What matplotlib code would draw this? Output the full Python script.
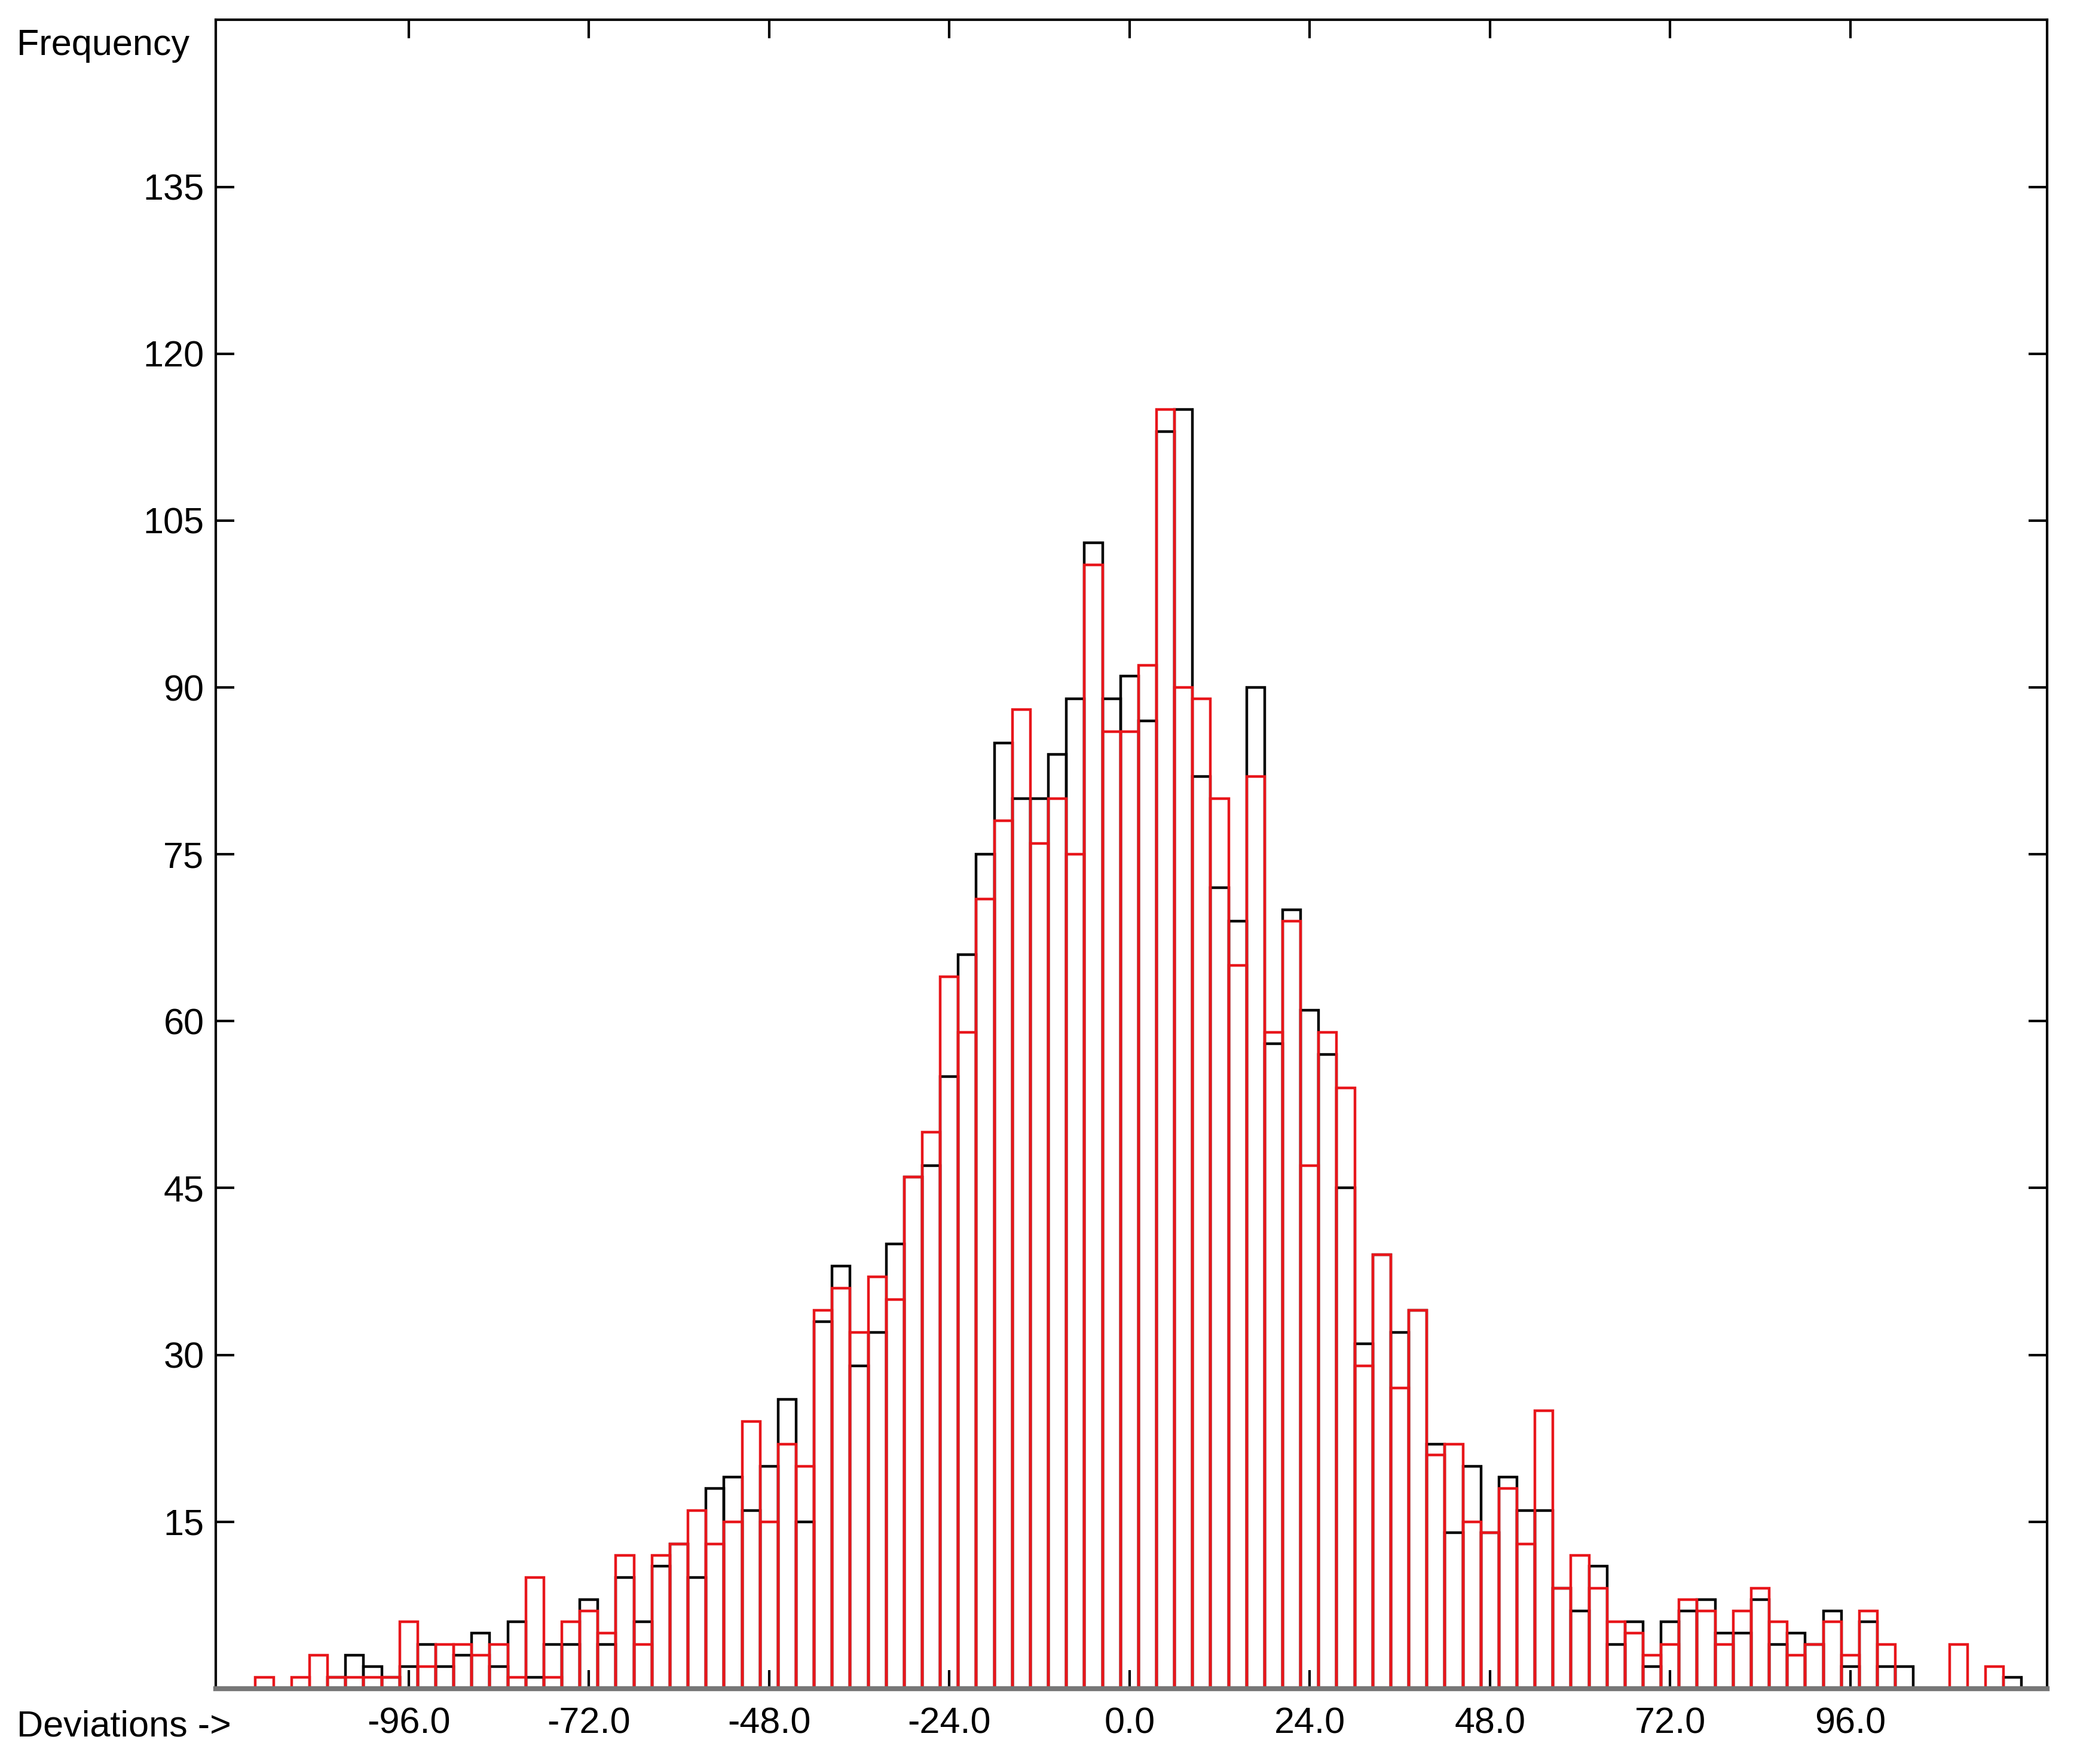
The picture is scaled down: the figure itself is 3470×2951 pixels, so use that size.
import numpy as np
import matplotlib.pyplot as plt

plt.rcParams['font.family'] = ['Liberation Sans', 'DejaVu Sans']

# bin index m -> centre m*2.4, from m=-48 to m=49
bin_index = np.arange(-48, 50)
bin_width = 2.4

black_counts = [
    0, 0, 0, 0, 1, 3, 2, 1, 2, 4,          # -48..-39
    2, 3, 5, 2, 6, 1, 4, 4, 8, 4,          # -38..-29
    10, 6, 11, 13, 10, 18, 19, 16, 20, 26, # -28..-19
    15, 33, 38, 29, 32, 40, 46, 47, 55, 66,   # -18..-9
    75, 85, 80, 80, 84, 89, 103, 89, 91, 87,  # -8..1
    113, 115, 82, 72, 69, 90, 58, 70, 61, 57, # 2..11
    45, 31, 39, 32, 34, 22, 14, 20, 14, 19,   # 12..21
    16, 16, 9, 7, 11, 4, 6, 2, 6, 7,          # 22..31
    8, 5, 5, 8, 4, 5, 4, 7, 2, 6,             # 32..41
    2, 2, 0, 0, 0, 0, 0, 1,                   # 42..49
]
red_counts = [
    1, 0, 1, 3, 1, 1, 1, 1, 6, 2,
    4, 4, 3, 4, 1, 10, 1, 6, 7, 5,
    12, 4, 12, 13, 16, 13, 15, 24, 15, 22,
    20, 34, 36, 32, 37, 35, 46, 50, 64, 59,
    71, 78, 88, 76, 80, 75, 101, 86, 86, 92,
    115, 90, 89, 80, 65, 82, 59, 69, 47, 59,
    54, 29, 39, 27, 34, 21, 22, 15, 14, 18,
    13, 25, 9, 12, 9, 6, 5, 3, 4, 8,
    7, 4, 7, 9, 6, 3, 4, 6, 3, 7,
    4, 0, 0, 0, 4, 0, 2, 0,
]
x_ticks = [-96, -72, -48, -24, 0, 24, 48, 72, 96]
y_ticks = [15, 30, 45, 60, 75, 90, 105, 120, 135]

centres = bin_index * bin_width

fig = plt.figure(figsize=(34.70, 29.51), dpi=100)
ax = fig.add_axes([0.104, 0.0427, 0.883, 0.946])

ax.bar(centres, black_counts, width=bin_width, fill=False,
       edgecolor='black', linewidth=3.2)
ax.bar(centres, red_counts, width=bin_width, fill=False,
       edgecolor='#e8161b', linewidth=3.2)

ax.set_xlim(-121.7, 122.2)
ax.set_ylim(0, 150)
ax.set_xticks(x_ticks)
ax.set_xticklabels([f'{v:.1f}' for v in x_ticks])
ax.set_yticks(y_ticks)
ax.tick_params(direction='in', length=22, width=3, labelsize=44,
               top=True, right=True, pad=14, colors='black')
ax.tick_params(axis='x', pad=22)
for s in ax.spines.values():
    s.set_linewidth(3)
ax.spines['bottom'].set_color('#777777')
ax.spines['bottom'].set_linewidth(6)

fig.text(0.008, 0.974, 'Frequency', fontsize=44, ha='left', va='center')
fig.text(0.008, 0.021, 'Deviations ->', fontsize=44, ha='left', va='center')

fig.savefig('out.png', dpi=100)
